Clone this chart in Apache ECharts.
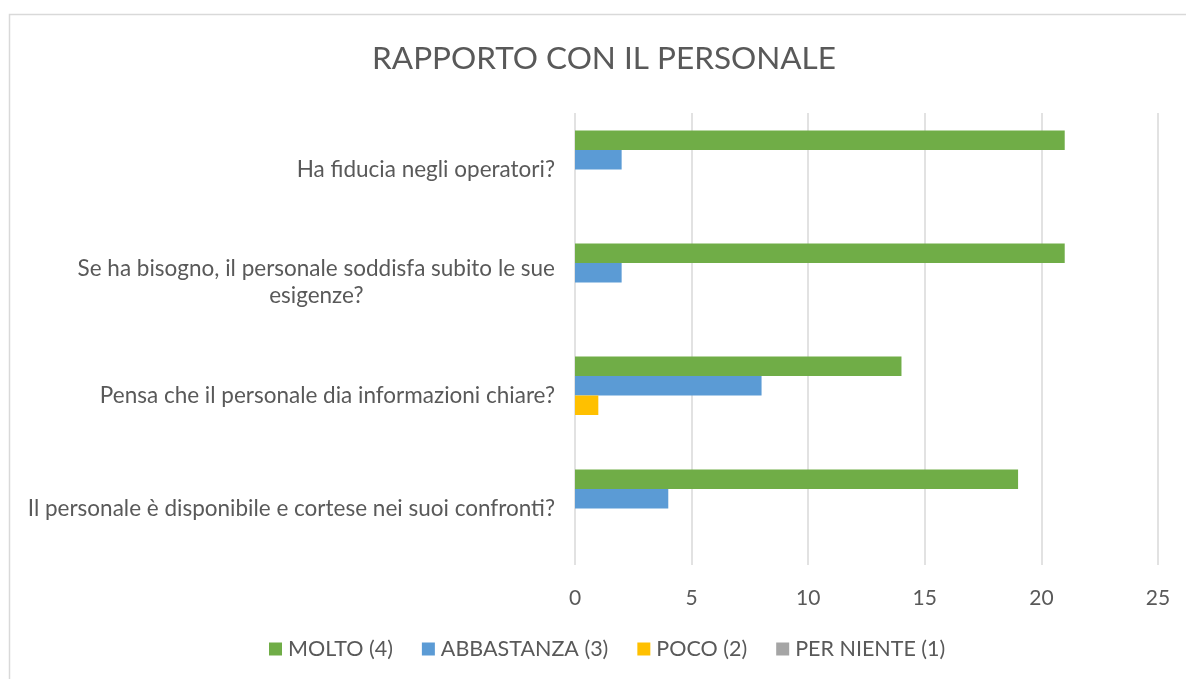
<!DOCTYPE html>
<html lang="it">
<head>
    <meta charset="UTF-8">
    <title>Rapporto con il personale</title>
    <style>
        html, body { margin: 0; padding: 0; background: #fff; }
        #main { width: 1186px; height: 679px; }
    </style>
    <script src="https://cdn.jsdelivr.net/npm/echarts@6/dist/echarts.min.js"></script>
</head>
<body>
    <div id="main"></div>
    <script>
        // domande, dall'alto verso il basso
        var domande = [
            'Ha fiducia negli operatori?',
            'Se ha bisogno, il personale soddisfa subito le sue\nesigenze?',
            'Pensa che il personale dia informazioni chiare?',
            'Il personale è disponibile e cortese nei suoi confronti?'
        ];
        var nomiSerie = ['MOLTO (4)', 'ABBASTANZA (3)', 'POCO (2)', 'PER NIENTE (1)'];
        var colori = ['#70AD47', '#5B9BD5', '#FFC000', '#A5A5A5'];
        var molto = [21, 21, 14, 19];
        var abbastanza = [2, 2, 8, 4];
        var poco = [0, 0, 1, 0];
        var perNiente = [0, 0, 0, 0];
        var valori = [molto, abbastanza, poco, perNiente];

        var font = 'Lato';
        var grigio = '#595959';

        var myChart = echarts.init(document.getElementById('main'));

        var series = nomiSerie.map(function (n, i) {
            return {
                name: n,
                type: 'bar',
                data: valori[i],
                barGap: '0%',
                barCategoryGap: '31%',
                itemStyle: { color: colori[i] }
            };
        });

        var option = {
            backgroundColor: '#fff',
            animation: false,
            textStyle: { fontFamily: font },
            title: {
                text: 'RAPPORTO CON IL PERSONALE',
                left: 599,
                textAlign: 'center',
                top: 38,
                textStyle: { fontFamily: font, fontSize: 31.5, fontWeight: 'normal', color: grigio }
            },
            graphic: [{
                type: 'rect',
                shape: { x: 9.5, y: 14.5, width: 1200, height: 700 },
                style: { fill: null, stroke: '#d9d9d9', lineWidth: 1.5 },
                silent: true
            }],
            legend: {
                bottom: 14,
                left: 264,
                itemWidth: 13,
                itemHeight: 13,
                itemGap: 29,
                icon: 'rect',
                data: nomiSerie,
                textStyle: { fontFamily: font, fontSize: 21.5, color: grigio, padding: [0, 0, 0, 1] }
            },
            grid: { left: 575, right: 28, top: 113, bottom: 114, containLabel: false },
            xAxis: {
                type: 'value',
                min: 0,
                max: 25,
                interval: 5,
                axisLine: { show: false },
                axisTick: { show: false },
                splitLine: { lineStyle: { color: '#d9d9d9', width: 1.5 } },
                axisLabel: { fontFamily: font, fontSize: 21, color: grigio, margin: 23 }
            },
            yAxis: {
                type: 'category',
                inverse: true,
                data: domande,
                axisLine: { show: false },
                axisTick: { show: false },
                axisLabel: {
                    margin: 20,
                    align: 'right',
                    formatter: function (v) {
                        return v.split('\n').map(function (r) { return '{c|' + r + '}'; }).join('\n');
                    },
                    rich: {
                        c: { fontFamily: font, fontSize: 22.5, color: grigio, lineHeight: 27, align: 'center' }
                    }
                }
            },
            series: series
        };
        myChart.setOption(option);
    </script>
</body>
</html>
